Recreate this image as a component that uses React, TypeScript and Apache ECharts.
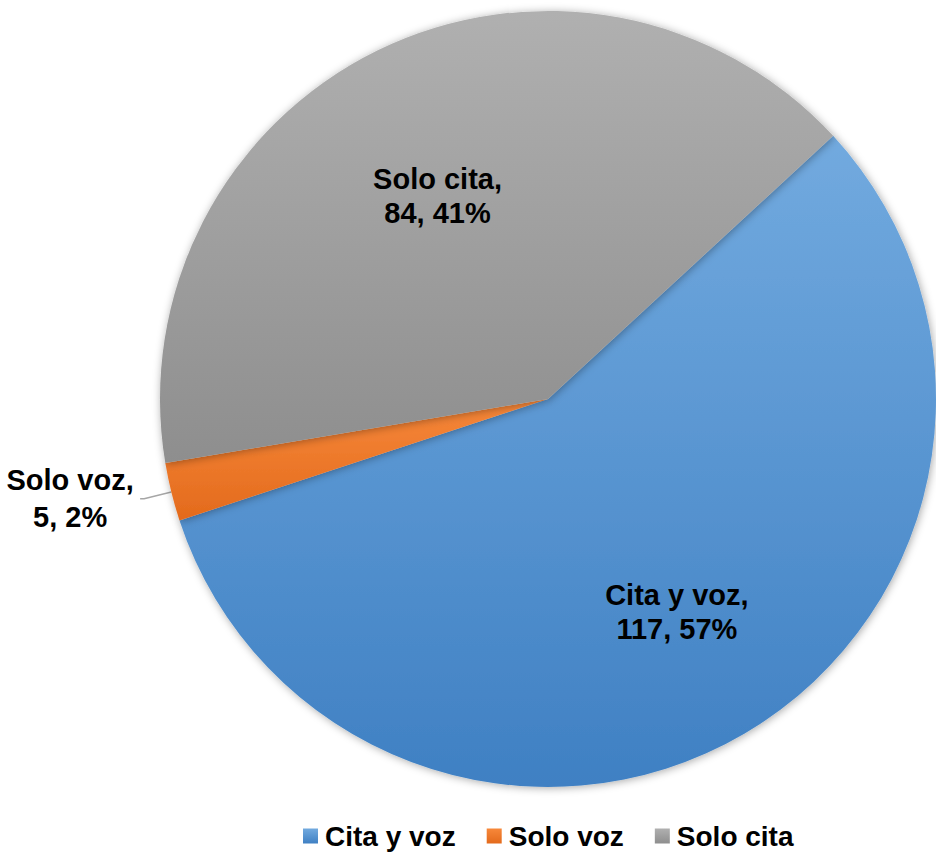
import React, { useEffect, useRef } from "react";
import * as echarts from "echarts";

const categories = ["Cita y voz", "Solo voz", "Solo cita"];
const values = [117, 5, 84];
const topColors = ["#72aadf", "#f7883a", "#b0b0b0"];
const bottomColors = ["#3f80c3", "#e36a1c", "#8e8e8e"];

const CX = 548;
const CY = 399;
const R = 388;
const FONT = "'Liberation Sans', Arial, Helvetica, sans-serif";

export default function App() {
  const ref = useRef<HTMLDivElement>(null);
  useEffect(() => {
    if (!ref.current) return;
    const chart = echarts.init(ref.current, undefined, { renderer: "svg" });
    const data = categories.map((name, i) => {
      const color = new echarts.graphic.LinearGradient(0, 0, 0, 1, [
        { offset: 0, color: topColors[i] },
        { offset: 1, color: bottomColors[i] },
      ]);
      const item: any = { name, value: values[i], itemStyle: { color } };
      if (i === 1) {
        item.label = {
          position: "outside",
          formatter: (p: any) => `{a|${p.name},}\n{a|${p.value}, ${p.percent}%}`,
          rich: {
            a: {
              width: 130,
              align: "center",
              fontSize: 29,
              fontWeight: "bold",
              fontFamily: FONT,
              color: "#000",
              lineHeight: 37,
            },
          },
        };
        item.labelLine = {
          show: true,
          length: 28,
          length2: 4,
          lineStyle: { color: "#a6a6a6", width: 1.5 },
        };
      }
      return item;
    });
    chart.setOption({
      animation: false,
      backgroundColor: "#ffffff",
      legend: {
        data: categories,
        left: 303,
        top: 822,
        padding: 0,
        icon: "rect",
        itemWidth: 15,
        itemHeight: 15,
        itemGap: 31,
        textStyle: {
          fontSize: 28,
          fontWeight: "bold",
          fontFamily: FONT,
          color: "#000",
          lineHeight: 28,
          padding: [0, 0, 0, 2],
        },
      },
      series: [
        {
          type: "pie",
          center: [CX, CY],
          radius: [0, R],
          startAngle: 42.7,
          clockwise: true,
          percentPrecision: 0,
          avoidLabelOverlap: false,
          data,
          itemStyle: {
            borderWidth: 0,
            shadowBlur: 8,
            shadowColor: "rgba(0,0,0,0.35)",
            shadowOffsetX: 1,
            shadowOffsetY: 1,
          },
          label: {
            show: true,
            position: "inside",
            formatter: "{b},\n{c}, {d}%",
            fontSize: 29,
            fontWeight: "bold",
            fontFamily: FONT,
            color: "#000",
            lineHeight: 34,
            align: "center",
          },
          labelLine: { show: false },
          labelLayout: (params: any) => {
            if (params.dataIndex === 1) return {};
            const r = params.labelRect;
            const cx = r.x + r.width / 2;
            const cy = r.y + r.height / 2;
            return { dx: (cx - CX) * 0.24 + (params.dataIndex === 0 ? 5 : -3), dy: (cy - CY) * 0.2 + 9 };
          },
        },
      ],
    });
    return () => chart.dispose();
  }, []);
  return (
    <div
      ref={ref}
      style={{ position: "fixed", left: 0, top: 0, width: 936, height: 856 }}
    />
  );
}
